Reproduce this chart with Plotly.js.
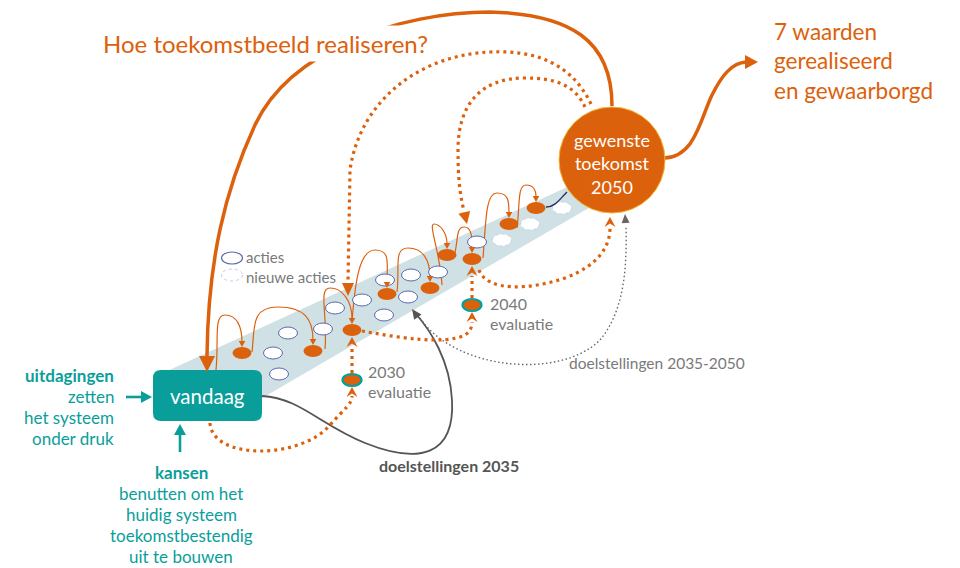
<!DOCTYPE html>
<html><head><meta charset="utf-8">
<script src="https://cdn.plot.ly/plotly-3.0.1.min.js"></script>
<style>html,body{margin:0;padding:0;background:#fff}#chart{width:960px;height:568px}</style>
</head><body><div id="chart"></div>
<script>
// ---------- data (diagram positions, pixel units) ----------
const orangeX = [242, 313, 352, 387, 430, 447, 472, 509, 536];   // realised actions
const orangeY = [353, 351, 330, 294, 288, 255, 259, 224, 208];
const actiesX = [273, 279, 288, 323, 335, 362, 384, 385, 408, 411, 438, 477];
const actiesY = [353, 374, 333, 329, 308, 300, 315, 280, 297, 275, 272, 242];
const nieuweX = [502, 530, 562];
const nieuweY = [240, 224, 208];
const evalX = [352, 472];
const evalY = [380, 305];
const evalYears = ['2030', '2040'];
// hops: start point and loop top; each hop ends on orange action i
const hopX0 = [216, 252, 325, 352, 397, 442, 455, 483, 517];
const hopY0 = [370, 352, 349, 322, 292, 285, 253, 258, 228];
const hopTopX = [225, 278, 330, 375, 408, 434, 464, 497, 526];
const hopTopY = [315, 307, 288, 250, 248, 224, 227, 193, 185];
// texts
const titleText = 'Hoe toekomstbeeld realiseren?';
const outcomeLines = ['7 waarden', 'gerealiseerd', 'en gewaarborgd'];
const goalLines = ['gewenste', 'toekomst', '2050'];
const todayText = 'vandaag';
const challengeHead = 'uitdagingen';
const challengeLines = ['zetten', 'het systeem', 'onder druk'];
const chanceHead = 'kansen';
const chanceLines = ['benutten om het', 'huidig systeem', 'toekomstbestendig', 'uit te bouwen'];
const legendLabels = ['acties', 'nieuwe acties'];
const evalLabel = 'evaluatie';
const goal2035 = 'doelstellingen 2035';
const goal2050 = 'doelstellingen 2035-2050';

// ---------- styles ----------
const FONT = 'Lato, "Open Sans", sans-serif';
const ORANGE = '#dc610c', TEAL = '#0a9e9b', BAND = '#cfe1e4', GRAYT = '#7a7a7a', DARK = '#555555';
const BLUE = '#5a68b0', LIGHTBLUE = '#c3c9e8';

const shapes = [];
const annotations = [];
function path(d, color, width, dash) {
  shapes.push({type: 'path', xref: 'x', yref: 'y', path: d, line: {color: color, width: width, dash: dash || 'solid'}, fillcolor: 'rgba(0,0,0,0)'});
}
function fillPath(d, fill) {
  shapes.push({type: 'path', xref: 'x', yref: 'y', path: d, fillcolor: fill, line: {width: 0}});
}
function ellipse(cx, cy, w, h, fill, lc, lw, dash) {
  shapes.push({type: 'circle', xref: 'x', yref: 'y', x0: cx - w / 2, x1: cx + w / 2, y0: cy - h / 2, y1: cy + h / 2,
    fillcolor: fill, line: {color: lc || fill, width: lw || 0, dash: dash || 'solid'}});
}
function head(tx, ty, fx, fy, len, hw, color, notch) {
  const dx = tx - fx, dy = ty - fy, L = Math.hypot(dx, dy), ux = dx / L, uy = dy / L, px = -uy, py = ux;
  const bx = tx - ux * len, by = ty - uy * len;
  const nx = bx + ux * len * (notch || 0), ny = by + uy * len * (notch || 0);
  fillPath(`M${tx},${ty} L${bx + px * hw},${by + py * hw} L${nx},${ny} L${bx - px * hw},${by - py * hw} Z`, color);
}
function txt(x, y, text, size, color, anchor, extra) {
  annotations.push(Object.assign({x: x, y: y, xref: 'x', yref: 'y', text: text, showarrow: false,
    xanchor: anchor || 'left', yanchor: 'middle', align: anchor === 'right' ? 'right' : (anchor === 'center' ? 'center' : 'left'),
    font: {family: FONT, size: size, color: color}}, extra || {}));
}

// band
fillPath('M165,372 L600,172 L606,198 L228,418 Z', BAND);

// big orange arc from goal to today
path('M612,106 C612,40 570,14 490,12 C400,12 290,50 255,125 C225,190 208,260 207,356', ORANGE, 3.5);
// right orange arrow
path('M664,158 C695,157 700,120 712,95 C722,75 732,63 746,62', ORANGE, 3.5);

// doelstellingen 2035 (solid dark)
path('M262,396 C300,398 320,425 365,443 C420,465 455,455 452,400 C450,360 430,330 416,314', DARK, 1.8);
// doelstellingen 2035-2050 (dotted gray)
path('M420,318 C455,370 560,380 600,340 C625,310 627,265 626,226', '#666666', 1.4, '1.5px,2.5px');

// orange dotted routes
const DOT = '3px,4px';
path('M591,104 C570,60 530,50 490,52 C420,55 360,100 350,170 L348,283', ORANGE, 3.2, DOT);
path('M585,107 C575,85 555,78 525,78 C480,78 458,105 458,150 C458,180 460,195 464,211', ORANGE, 3.2, DOT);
path('M210,423 C212,460 300,460 330,425 C345,408 352,404 352,396', ORANGE, 3.2, DOT);
path('M352,373 L352,347', ORANGE, 3.2, DOT);
path('M362,331 C400,338 445,345 465,335 C471,331 472,326 472,322', ORANGE, 3.2, DOT);
path('M472,298 L472,276', ORANGE, 3.2, DOT);
path('M479,270 C487,292 530,290 565,278 C600,265 610,245 610,228', ORANGE, 3.2, DOT);

// hops
for (let i = 0; i < hopX0.length; i++) {
  const x0 = hopX0[i], y0 = hopY0[i], xt = hopTopX[i], yt = hopTopY[i];
  const x1 = orangeX[i], y1 = orangeY[i] - 6;
  const r = Math.max(6, Math.abs(x1 - x0) * 0.45);
  const c1x = x0 + (xt >= x0 ? 3 : -2);
  path(`M${x0},${y0} C${c1x},${y0 - (y0 - yt) * 0.55} ${xt - r},${yt} ${xt},${yt} C${xt + r},${yt} ${x1},${yt + (y1 - yt) * 0.35} ${x1},${y1 - 5}`, ORANGE, 1.2);
}

// ellipses
for (let i = 0; i < actiesX.length; i++) ellipse(actiesX[i], actiesY[i], 19, 12, '#ffffff', BLUE, 1);
for (let i = 0; i < nieuweX.length; i++) ellipse(nieuweX[i], nieuweY[i], 19, 12, '#ffffff', LIGHTBLUE, 0.8, 'dot');
for (let i = 0; i < orangeX.length; i++) ellipse(orangeX[i], orangeY[i], 19, 12, ORANGE);
for (let i = 0; i < evalX.length; i++) ellipse(evalX[i], evalY[i], 19, 12, ORANGE, TEAL, 2.2);

// navy connector to goal
path('M546,207 C555,207 559,200 567,192', '#1f2b5c', 1.3);

// goal circle
shapes.push({type: 'circle', xref: 'x', yref: 'y', x0: 559, x1: 665, y0: 107, y1: 213, fillcolor: ORANGE, line: {color: '#f2b632', width: 1}});

// today box
fillPath('M161,370 L254,370 Q262,370 262,378 L262,413 Q262,421 254,421 L161,421 Q153,421 153,413 L153,378 Q153,370 161,370 Z', TEAL);

// teal input arrows
path('M126,397 L142,397', TEAL, 2.6);
path('M180,452 L180,434', TEAL, 2.6);
head(152, 397, 140, 397, 11, 6, TEAL);
head(180, 424, 180, 436, 11, 6, TEAL);

// arrowheads
head(207, 372, 207, 355, 16, 8, ORANGE);
head(758, 62, 745, 62, 13, 7, ORANGE);
head(348, 296, 348, 282, 13, 6, ORANGE);
head(467, 224, 464, 211, 12, 6, ORANGE);
head(352, 387, 352, 400, 10, 5.5, ORANGE, 0.35);
head(352, 337, 352, 350, 10, 5.5, ORANGE, 0.35);
head(472, 312, 472, 325, 10, 5.5, ORANGE, 0.35);
head(472, 266, 472, 280, 10, 5.5, ORANGE, 0.35);
head(610, 217, 610, 230, 10, 5.5, ORANGE, 0.35);
head(412, 309, 417, 316, 10, 4.5, DARK);
head(625, 214, 626, 228, 9, 4, '#666666');
for (let i = 0; i < hopX0.length; i++) head(orangeX[i], orangeY[i] - 6, orangeX[i], orangeY[i] - 12, 6, 3.3, ORANGE);

// legend ellipses
ellipse(232, 258, 21, 12, '#ffffff', BLUE, 1.2);
ellipse(232, 275, 21, 12, '#ffffff', LIGHTBLUE, 1, 'dot');

// ---------- texts ----------
txt(99, 43, titleText, 24, ORANGE, 'left', {bgcolor: '#ffffff', borderpad: 3});
txt(772, 61, outcomeLines.join('<br>'), 22.5, ORANGE, 'left');
txt(612, 163, goalLines.join('<br>'), 18, '#ffffff', 'center');
txt(207, 396, todayText, 20.5, '#ffffff', 'center');
txt(116, 375, challengeHead, 17, TEAL, 'right', {font: {family: FONT, size: 17, color: TEAL, weight: 700}});
challengeLines.forEach((t, i) => txt(116, 396 + i * 21, t, 17, TEAL, 'right'));
txt(181, 472, chanceHead, 17, TEAL, 'center', {font: {family: FONT, size: 17, color: TEAL, weight: 700}});
chanceLines.forEach((t, i) => txt(181, 493 + i * 21, t, 17, TEAL, 'center'));
txt(244, 266.5, legendLabels.join('<br>'), 15, GRAYT, 'left');
evalYears.forEach((t, i) => {
  const lx = [366, 488][i], ly = [371, 303][i];
  txt(lx, ly, t, 16, GRAYT, 'left');
  txt(lx, ly + 20, evalLabel, 16, GRAYT, 'left');
});
txt(567, 363, goal2050, 15.5, GRAYT, 'left');
txt(377, 465, goal2035, 16, DARK, 'left', {font: {family: FONT, size: 16, color: DARK, weight: 700}});

Plotly.newPlot('chart', [{x: orangeX, y: orangeY, type: 'scatter', mode: 'markers', marker: {size: 1, opacity: 0}, hoverinfo: 'skip', showlegend: false}], {
  width: 960, height: 568, margin: {l: 0, r: 0, t: 0, b: 0},
  paper_bgcolor: '#ffffff', plot_bgcolor: '#ffffff',
  xaxis: {range: [0, 960], visible: false, fixedrange: true},
  yaxis: {range: [568, 0], visible: false, fixedrange: true},
  shapes: shapes, annotations: annotations, showlegend: false
}, {staticPlot: true});
</script></body></html>
